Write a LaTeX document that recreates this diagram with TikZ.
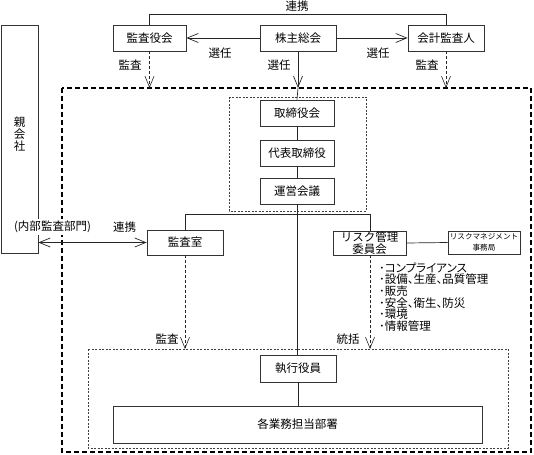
\documentclass[tikz,border=0pt]{standalone}
\usepackage{fontspec}
\newfontfamily\jp{Noto Sans CJK JP}
\newfontfamily\jpp[RawFeature=+palt]{Noto Sans CJK JP}
\usetikzlibrary{arrows.meta}
\begin{document}
\begin{tikzpicture}[x=1pt,y=-1pt,
  >={Straight Barb[length=11pt,width=9pt]},
  txt/.style={font=\jp\fontsize{11.5}{13}\selectfont, inner sep=0pt},
  boxnode/.style={draw=black!80, line width=0.7pt, txt, minimum width=#1, anchor=center},
  conn/.style={draw=black!85, line width=0.7pt},
  dash arrow/.style={draw=black!85, line width=0.6pt, dash pattern=on 3pt off 2pt, ->},
  outerbox/.style={draw=black, line width=1.1pt, dash pattern=on 5pt off 3pt},
  groupbox/.style={draw=black!75, line width=0.6pt, dash pattern=on 2pt off 1.5pt},
]
\useasboundingbox (0,0) rectangle (534,454);

% outer dashed frame
\draw[outerbox] (62,88) rectangle (531,452);
% group frames
\draw[groupbox] (229,97) rectangle (366,211);
\draw[groupbox] (88,349) rectangle (508,448);

% parent company
\node[draw=black!80, line width=0.7pt, minimum width=37pt, minimum height=228pt, inner sep=0pt] (oya) at (19.5,139) {};
\node[txt, align=center, font=\jp\fontsize{11.5}{11.7}\selectfont] (oyatxt) at (19.5,134) {親\\会\\社};

% top row
\node[boxnode=73pt, minimum height=26pt] (kansayaku) at (149.5,38) {監査役会};
\node[boxnode=76pt, minimum height=26pt] (kabunushi) at (298,38) {株主総会};
\node[boxnode=76pt, minimum height=26pt] (kaikei) at (446,38) {会計監査人};

% board group
\node[boxnode=74pt, minimum height=26pt] (torishimari) at (297,113) {取締役会};
\node[boxnode=74pt, minimum height=26pt] (daihyo) at (297,153) {代表取締役};
\node[boxnode=74pt, minimum height=26pt] (unei) at (297,191) {運営会議};

% middle row
\node[boxnode=76pt, minimum height=25pt] (kansashitsu) at (185,242.5) {監査室};
\node[boxnode=73pt, minimum height=24pt, align=center, font=\jp\fontsize{11.5}{12}\selectfont] (risk) at (369.5,243) {リスク管理\\委員会};
\node[draw=black!80, line width=0.7pt, minimum width=72pt, minimum height=23pt, inner sep=0pt, align=center, font=\jp\fontsize{7.6}{11}\selectfont] (jimu) at (484,242.5) {リスクマネジメント\\事務局};

% bottom
\node[boxnode=76pt, minimum height=27pt] (shikko) at (298,368.5) {執行役員};
\node[boxnode=369pt, minimum height=37pt] (kakugyomu) at (297.5,424.5) {各業務担当部署};

% coordinates
\coordinate (tl) at (149.5,14);
\coordinate (tr) at (446,14);
\coordinate (kyA) at (149.5,88);
\coordinate (kkA) at (446,88);
\coordinate (kbA) at (298,88);
\coordinate (ksA) at (185,349);
\coordinate (rkA) at (370,349);

% connectors top
\draw[conn] (kansayaku.north) -- (tl) -- (tr) -- (kaikei.north);
\draw[conn,->] (kabunushi.west) -- (kansayaku.east);
\draw[conn,->] (kabunushi.east) -- (kaikei.west);
\draw[dash arrow] (kansayaku.south) -- (kyA);
\draw[dash arrow] (kaikei.south) -- (kkA);
\draw[conn,->] (kabunushi.south) -- (kbA);
\draw[conn] (kbA) -- (torishimari.north);
\draw[conn] (torishimari.south) -- (daihyo.north);
\draw[conn] (daihyo.south) -- (unei.north);
\draw[conn] (unei.south) -- (unei.south |- shikko.north);
\draw[conn] (shikko.south) -- (shikko.south |- kakugyomu.north);

% middle connectors
\draw[conn] (kansashitsu.north) -- ++(0,-15) -| (risk.north -| rkA);
\draw[conn] (risk.east) -- (jimu.west);
\draw[conn,<->] (oya.east |- kansashitsu.west) -- (kansashitsu.west);
\draw[dash arrow] (kansashitsu.south) -- (ksA);
\draw[dash arrow] (risk.south -| rkA) -- (rkA);

% labels
\node[txt] (renkei1) at (297,6) {連携};
\node[txt] (sennin1) at (220,53) {選任};
\node[txt] (sennin2) at (378,53) {選任};
\node[txt] (sennin3) at (279,65) {選任};
\node[txt] (kansa1) at (130,65) {監査};
\node[txt] (kansa2) at (427,65) {監査};
\node[txt, fill=white, inner xsep=1pt, inner ysep=2pt] (naibu) at (52.5,227) {(内部監査部門)};
\node[txt] (renkei2) at (124.5,227) {連携};
\node[txt] (kansa3) at (167,339) {監査};
\node[txt] (tokatsu) at (348,339) {統括};
\node[txt, anchor=north west, align=left, font=\jpp\fontsize{11.5}{11.6}\selectfont] (list) at (379,262.5)
  {･コンプライアンス\\･設備、生産、品質管理\\･販売\\･安全、衛生、防災\\･環境\\･情報管理};
\end{tikzpicture}
\end{document}
